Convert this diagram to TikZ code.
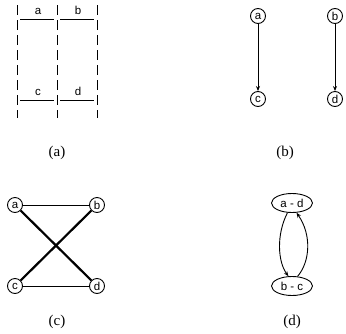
\documentclass[tikz,border=0pt]{standalone}
\usepackage{fontspec}
\setmainfont{Liberation Serif}
\setsansfont{Liberation Sans}
\usetikzlibrary{shapes.geometric,arrows.meta}
\begin{document}
\begin{tikzpicture}[x=1pt,y=-1pt,
  vtx/.style={circle,draw,line width=0.9pt,minimum size=15pt,inner sep=0pt,font=\sffamily\fontsize{11.5}{12}\selectfont},
  ell/.style={ellipse,draw,line width=0.9pt,minimum width=41pt,minimum height=19pt,inner sep=0pt,font=\sffamily\fontsize{11.5}{12}\selectfont},
  lbl/.style={font=\sffamily\fontsize{11.5}{12}\selectfont,inner sep=0pt},
  captxt/.style={font=\fontsize{15}{17}\selectfont,inner sep=0pt},
  dsh/.style={line width=1pt,dash pattern=on 10pt off 5pt},
  thinl/.style={line width=1pt},
  thickl/.style={line width=2.2pt},
  arr/.style={line width=0.9pt,-{Stealth[length=5pt,width=4pt]}}]
\useasboundingbox (0,0) rectangle (346,333);
% (a)
\coordinate (d1t) at (17,5); \coordinate (d1b) at (17,118);
\coordinate (d2t) at (57,5); \coordinate (d2b) at (57,118);
\coordinate (d3t) at (97,5); \coordinate (d3b) at (97,118);
\draw[dsh] (d1t) -- (d1b);
\draw[dsh] (d2t) -- (d2b);
\draw[dsh] (d3t) -- (d3b);
\coordinate (t1l) at (20,19); \coordinate (t1r) at (54,19);
\coordinate (t2l) at (60,19); \coordinate (t2r) at (94,19);
\coordinate (b1l) at (20,100); \coordinate (b1r) at (54,100);
\coordinate (b2l) at (60,100); \coordinate (b2r) at (94,100);
\draw[thinl] (t1l) -- (t1r);
\draw[thinl] (t2l) -- (t2r);
\draw[thinl] (b1l) -- (b1r);
\draw[thinl] (b2l) -- (b2r);
\node[lbl] (la) at (38,11) {a};
\node[lbl] (lb) at (78,10) {b};
\node[lbl] (lc) at (38,92) {c};
\node[lbl] (ld) at (78,91) {d};
\node[captxt] (capa) at (57,153) {(a)};
% (b)
\node[vtx] (ba) at (258,16) {a};
\node[vtx] (bc) at (258,99) {c};
\node[vtx] (bb) at (335,16) {b};
\node[vtx] (bd) at (335,99) {d};
\draw[arr] (ba) -- (bc);
\draw[arr] (bb) -- (bd);
\node[captxt] (capb) at (285,153) {(b)};
% (c)
\node[vtx] (ca) at (15,205) {a};
\node[vtx] (cb) at (97,205) {b};
\node[vtx] (cc) at (15,286) {c};
\node[vtx] (cd) at (97,286) {d};
\draw[thinl] (ca) -- (cb);
\draw[thinl] (cc) -- (cd);
\draw[thickl] (ca) -- (cd);
\draw[thickl] (cc) -- (cb);
\node[captxt] (capc) at (57,322) {(c)};
% (d)
\node[ell] (ad) at (292,203) {a - d};
\node[ell] (bcn) at (292,286) {b - c};
\draw[arr] (ad.-115) .. controls (276,235) and (278,262) .. (bcn.110);
\draw[arr] (bcn.60) .. controls (310,262) and (312,235) .. (ad.-65);
\node[captxt] (capd) at (292,322) {(d)};
\end{tikzpicture}
\end{document}
